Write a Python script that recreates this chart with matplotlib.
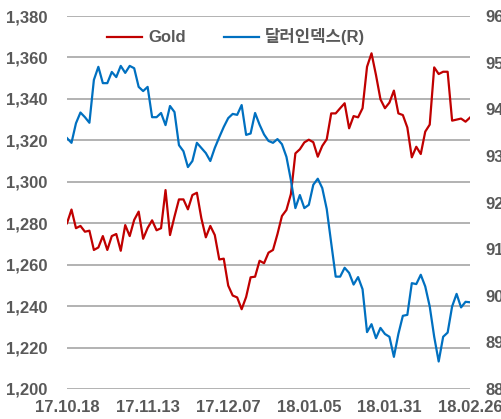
"""Gold vs dollar index, 17.10.18 - 18.02.26 -> out.png"""
import numpy as np
import matplotlib
matplotlib.use('Agg')
import matplotlib.pyplot as plt

# ----- data (one point per trading day):
gold = [1280.0, 1286.6, 1277.6, 1278.7, 1275.9, 1276.4, 1267.1, 1268.3, 1273.8, 1267.1,
        1273.8, 1274.8, 1266.7, 1279.1, 1273.8, 1281.6, 1285.6, 1272.5, 1277.7, 1281.4,
        1276.6, 1277.6, 1296.0, 1274.3, 1283.2, 1291.5, 1291.5, 1286.7, 1293.6, 1294.7,
        1282.4, 1273.2, 1278.7, 1274.3, 1262.5, 1262.9, 1249.9, 1245.1, 1244.2, 1238.5,
        1244.4, 1253.9, 1254.2, 1261.9, 1260.7, 1265.8, 1267.1, 1274.8, 1283.5, 1286.4,
        1294.1, 1313.7, 1315.7, 1319.0, 1320.3, 1319.1, 1312.1, 1317.3, 1320.5, 1333.0,
        1333.0, 1335.5, 1337.9, 1325.8, 1331.7, 1331.1, 1335.5, 1355.5, 1362.0, 1351.5,
        1339.8, 1335.5, 1338.2, 1344.0, 1333.0, 1332.2, 1326.2, 1311.8, 1316.9, 1313.4,
        1324.2, 1327.6, 1355.2, 1352.0, 1353.1, 1353.1, 1329.5, 1330.0, 1330.5, 1329.0,
        1331.0]
dollar = [93.38, 93.28, 93.70, 93.93, 93.83, 93.71, 94.63, 94.91, 94.56, 94.56,
          94.80, 94.69, 94.93, 94.78, 94.93, 94.88, 94.48, 94.39, 94.48, 93.83,
          93.83, 93.92, 93.66, 94.07, 93.94, 93.23, 93.10, 92.76, 92.89, 93.28,
          93.17, 93.06, 92.89, 93.17, 93.40, 93.62, 93.81, 93.90, 93.88, 94.09,
          93.45, 93.48, 93.92, 93.67, 93.46, 93.32, 93.28, 93.36, 93.25, 92.98,
          92.48, 91.88, 92.16, 91.88, 91.95, 92.38, 92.51, 92.31, 91.86, 91.13,
          90.41, 90.41, 90.60, 90.49, 90.24, 90.40, 90.14, 89.22, 89.39, 89.09,
          89.31, 89.18, 89.12, 88.69, 89.18, 89.57, 89.59, 90.27, 90.25, 90.45,
          90.20, 89.77, 89.12, 88.59, 89.12, 89.21, 89.77, 90.04, 89.75, 89.87,
          89.86]
date_labels = ['17.10.18', '17.11.13', '17.12.07', '18.01.05', '18.01.31', '18.02.26']
label_every = 18

gray = '#595959'
fam = ['Liberation Sans', 'Noto Sans CJK KR', 'DejaVu Sans']
plt.rcParams['font.family'] = fam
plt.rcParams['font.weight'] = 'bold'

fig = plt.figure(figsize=(5.02, 4.19), dpi=100)
ax = fig.add_axes([0.1335, 0.0716, 0.8028, 0.8902])
ax2 = ax.twinx()

x = np.arange(len(gold))
l1, = ax.plot(x, gold, color='#C00000', linewidth=1.6, label='Gold', zorder=3)
l2, = ax2.plot(x, dollar, color='#0070C0', linewidth=1.6, label='달러인덱스(R)')

# ----- axes:
ax.set_xlim(0, len(gold) - 1)
ax.set_ylim(1200, 1380)
ax.set_yticks(np.arange(1200, 1381, 20))
ax.yaxis.set_major_formatter(matplotlib.ticker.StrMethodFormatter('{x:,.0f}'))
ax2.set_ylim(88, 96)
ax2.set_yticks(np.arange(88, 97, 1))
ax.set_xticks(x[::label_every])
ax.set_xticklabels(date_labels)

ax.grid(True, axis='y', color='#A6A6A6', linewidth=1.2)
ax.set_axisbelow(True)
for a in (ax, ax2):
    for s in a.spines.values():
        s.set_visible(False)
ax.tick_params(axis='y', length=0, pad=14, labelsize=12, labelcolor=gray)
ax.tick_params(axis='x', length=0, pad=8, labelsize=12, labelcolor=gray)
ax2.tick_params(axis='y', length=0, pad=11, labelsize=12, labelcolor=gray)

# ----- legend:
leg = ax2.legend([l1, l2], [l1.get_label(), l2.get_label()], loc='center',
                 bbox_to_anchor=(0.42, 0.944), ncol=2, frameon=False,
                 handlelength=2.1, columnspacing=2.3, handletextpad=0.35,
                 prop={'family': fam, 'weight': 'bold', 'size': 12})
for t in leg.get_texts():
    t.set_color(gray)

fig.savefig('out.png', dpi=100)
